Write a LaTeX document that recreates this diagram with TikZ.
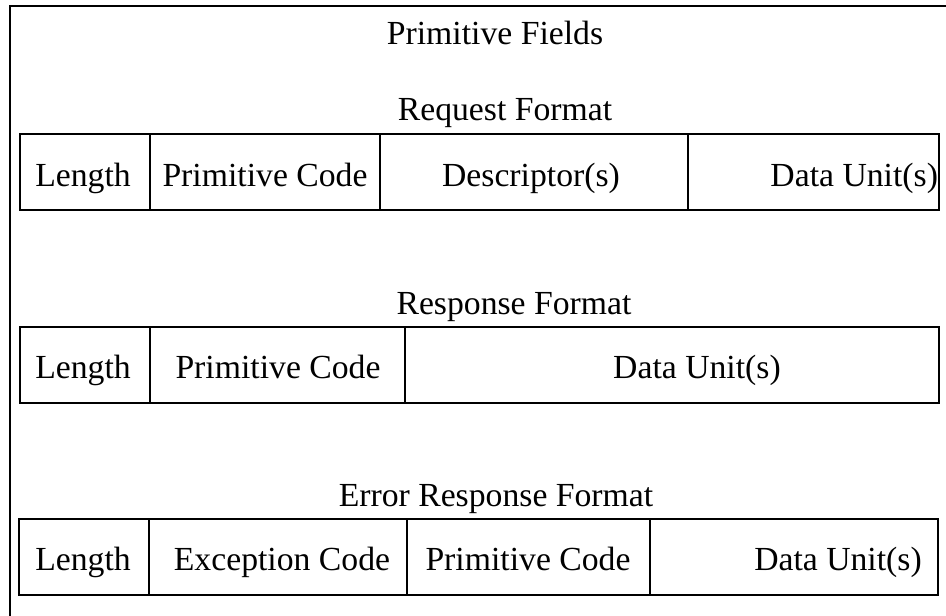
\documentclass[tikz,border=0pt]{standalone}
\usepackage{fontspec}
\setmainfont{Liberation Serif}
\usetikzlibrary{calc}

\begin{document}
\begin{tikzpicture}[x=1pt,y=-1pt,line width=2pt,
    field/.style={anchor=base,inner sep=0pt},
    title/.style={anchor=base,inner sep=0pt},
    font=\fontsize{33.7}{40}\selectfont]
      \useasboundingbox (0,0) rectangle (946,616);
      \coordinate (frameNW) at (10,6);
      \draw (frameNW) rectangle +(980,640);
      \node[title] (fields) at (495,44) {Primitive Fields};
      % request
      \node[title] (reqtitle) at (505,120) {Request Format};
      \draw (20,134) rectangle (939,210);
      \draw (150,134) -- (150,210);
      \draw (380,134) -- (380,210);
      \draw (688,134) -- (688,210);
      \node[field] (reqlen) at (83,186) {Length};
      \node[field] (reqcode) at (265,186) {Primitive Code};
      \node[field] (reqdesc) at (531,186) {Descriptor(s)};
      \node[field,anchor=base east] (reqdata) at (939,186) {Data Unit(s)};
      % response
      \node[title] (restitle) at (514,314) {Response Format};
      \draw (20,327) rectangle (939,403);
      \draw (150,327) -- (150,403);
      \draw (405,327) -- (405,403);
      \node[field] (reslen) at (83,378) {Length};
      \node[field] (rescode) at (278,378) {Primitive Code};
      \node[field] (resdata) at (697,378) {Data Unit(s)};
      % error response
      \node[title] (errtitle) at (496,506) {Error Response Format};
      \draw (19,519) rectangle (938,595);
      \draw (149,519) -- (149,595);
      \draw (407,519) -- (407,595);
      \draw (650,519) -- (650,595);
      \node[field] (errlen) at (83,570) {Length};
      \node[field] (errexc) at (282,570) {Exception Code};
      \node[field] (errcode) at (528,570) {Primitive Code};
      \node[field] (errdata) at (838,570) {Data Unit(s)};
\end{tikzpicture}
\end{document}
